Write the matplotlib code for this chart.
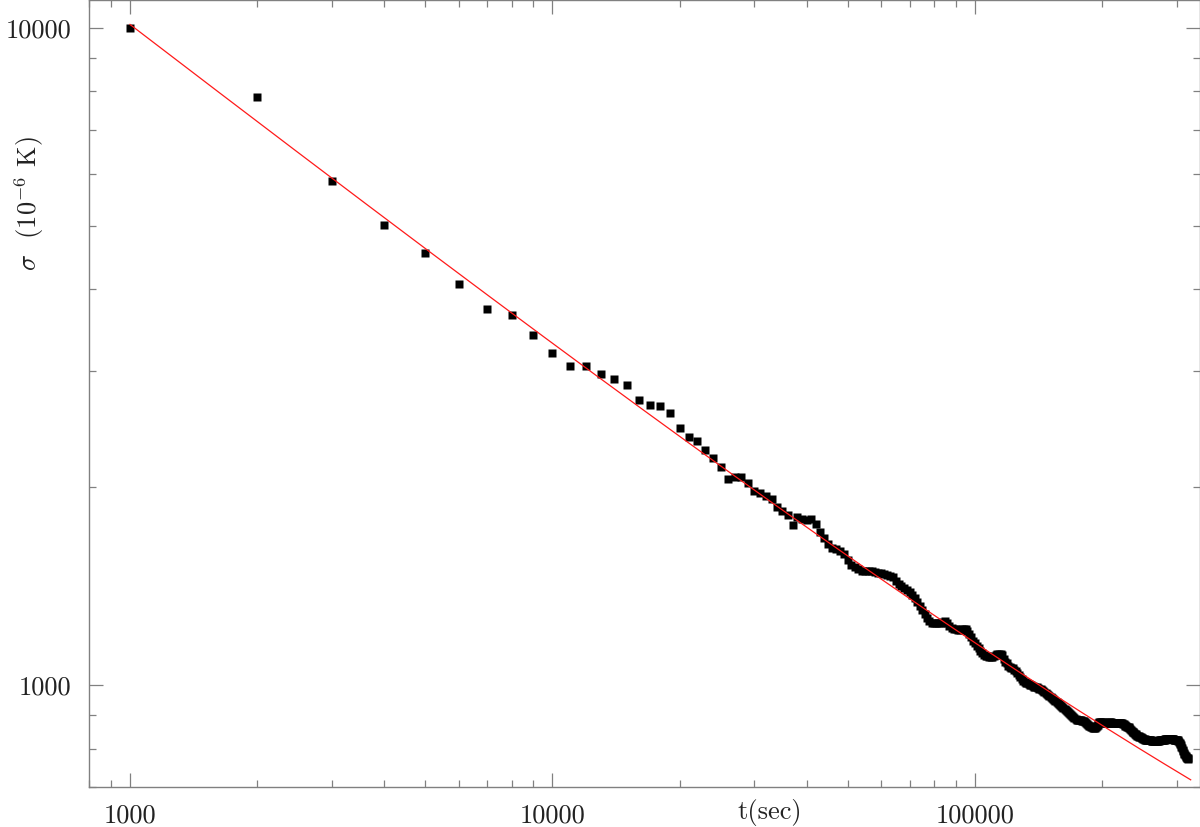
import numpy as np
import matplotlib
matplotlib.use('Agg')
import matplotlib.pyplot as plt
from matplotlib.ticker import FixedLocator, FixedFormatter, LogLocator, NullFormatter

plt.rcParams['font.family'] = 'cmr10'
plt.rcParams['mathtext.fontset'] = 'cm'
plt.rcParams['axes.formatter.use_mathtext'] = True
plt.rcParams['axes.unicode_minus'] = False

# integration time, one point every 1000 s
t_start, t_stop, t_step = 1000, 320000, 1000
t = np.arange(t_start, t_stop + 1, t_step)

# sigma in 10^-6 K (one value per point)
sigma = [
    9980, 7842, 5840, 5012, 4548, 4070, 3728, 3660, 3409, 3206,
    3060, 3060, 2976, 2917, 2866, 2713, 2666, 2657, 2593, 2457,
    2384, 2355, 2277, 2214, 2145, 2059, 2076, 2076, 2028, 1974,
    1958, 1940, 1920, 1869, 1840, 1812, 1750, 1800, 1790, 1782,
    1790, 1759, 1710, 1675, 1640, 1617, 1611, 1600, 1583, 1550,
    1521, 1510, 1502, 1492, 1492, 1493, 1492, 1486, 1483, 1479,
    1474, 1470, 1466, 1458, 1440, 1423, 1413, 1403, 1395, 1385,
    1373, 1359, 1338, 1320, 1301, 1285, 1265, 1252, 1245, 1241,
    1241, 1243, 1245, 1247, 1250, 1241, 1230, 1223, 1219, 1217,
    1215, 1215, 1217, 1219, 1219, 1209, 1196, 1184, 1169, 1158,
    1148, 1138, 1127, 1119, 1112, 1108, 1106, 1104, 1104, 1104,
    1106, 1110, 1114, 1115, 1117, 1112, 1096, 1084, 1079, 1071,
    1066, 1063, 1060, 1056, 1050, 1043, 1036, 1028, 1021, 1016,
    1011, 1007, 1006, 1004, 1002, 999, 997, 995, 994, 992,
    990, 988, 986, 983, 979, 976, 973, 971, 967, 964,
    960, 957, 952, 949, 946, 942, 939, 936, 932, 929,
    926, 922, 919, 916, 913, 910, 907, 904, 900, 897,
    894, 891, 888, 886, 884, 884, 884, 884, 883, 883,
    881, 878, 875, 872, 870, 868, 866, 864, 863, 862,
    861, 861, 863, 866, 870, 875, 878, 879, 879, 878,
    878, 877, 876, 875, 876, 877, 877, 878, 878, 878,
    877, 877, 876, 876, 876, 876, 877, 877, 876, 876,
    876, 876, 875, 874, 872, 870, 868, 866, 865, 864,
    863, 860, 857, 854, 852, 849, 848, 846, 844, 842,
    840, 838, 837, 836, 835, 834, 833, 832, 830, 829,
    828, 827, 826, 826, 825, 825, 825, 824, 824, 824,
    824, 823, 823, 823, 823, 823, 823, 823, 823, 823,
    823, 823, 824, 824, 824, 825, 825, 825, 826, 826,
    826, 827, 827, 827, 827, 828, 828, 828, 828, 828,
    828, 828, 827, 827, 827, 826, 826, 826, 826, 825,
    825, 825, 823, 820, 817, 815, 810, 806, 802, 797,
    793, 789, 785, 782, 779, 777, 776, 775, 774, 773,
]

# fitted curve  sigma = amp / sqrt(t / 1000 s) + floor
fit_amp = 9950
fit_floor = 165
fit_t_range = [1000, 324000]

x_ticks = [1000, 10000, 100000]
x_ticklabels = ['1000', '10000', '100000']
y_ticks = [1000, 10000]
y_ticklabels = ['1000', '10000']

fig = plt.figure(figsize=(12, 8.27), dpi=100)
ax = fig.add_axes([0.0742, 0.0484, 0.9254, 0.9510])

tf = np.geomspace(fit_t_range[0], fit_t_range[1], 400)
ax.plot(tf, fit_amp / np.sqrt(tf / 1000.0) + fit_floor, color='#ff1a1a', lw=0.9, zorder=3)
ax.plot(t, sigma, ls='none', marker='s', ms=5.5, mec='none', color='black', zorder=2)

ax.set_xscale('log')
ax.set_yscale('log')
ax.set_xlim(800, 340000)
ax.set_ylim(700, 11000)

ax.xaxis.set_major_locator(FixedLocator(x_ticks))
ax.xaxis.set_major_formatter(FixedFormatter(x_ticklabels))
ax.yaxis.set_major_locator(FixedLocator(y_ticks))
ax.yaxis.set_major_formatter(FixedFormatter(y_ticklabels))
ax.xaxis.set_minor_locator(LogLocator(base=10, subs=np.arange(2, 10), numticks=20))
ax.yaxis.set_minor_locator(LogLocator(base=10, subs=np.arange(2, 10), numticks=20))
ax.xaxis.set_minor_formatter(NullFormatter())
ax.yaxis.set_minor_formatter(NullFormatter())

axis_grey = '#808080'
for s in ax.spines.values():
    s.set_color(axis_grey)
    s.set_linewidth(1.0)
ax.tick_params(which='both', direction='in', top=True, right=True,
               color=axis_grey, width=0.9, labelcolor='#222222', labelsize=19)
ax.tick_params(axis='x', pad=12)
ax.tick_params(axis='y', pad=13)
ax.tick_params(which='major', length=10)
ax.tick_params(which='minor', length=5)

fig.text(770 / 1200, 1 - 813 / 827, 't(sec)', ha='center', va='center',
         fontsize=19, color='#222222')
fig.text(29 / 1200, 1 - 204 / 827, r'$\sigma$  (10$^{-6}$ K)', ha='center', va='center',
         rotation=90, fontsize=19, color='#222222')

fig.savefig('out.png', dpi=100)
